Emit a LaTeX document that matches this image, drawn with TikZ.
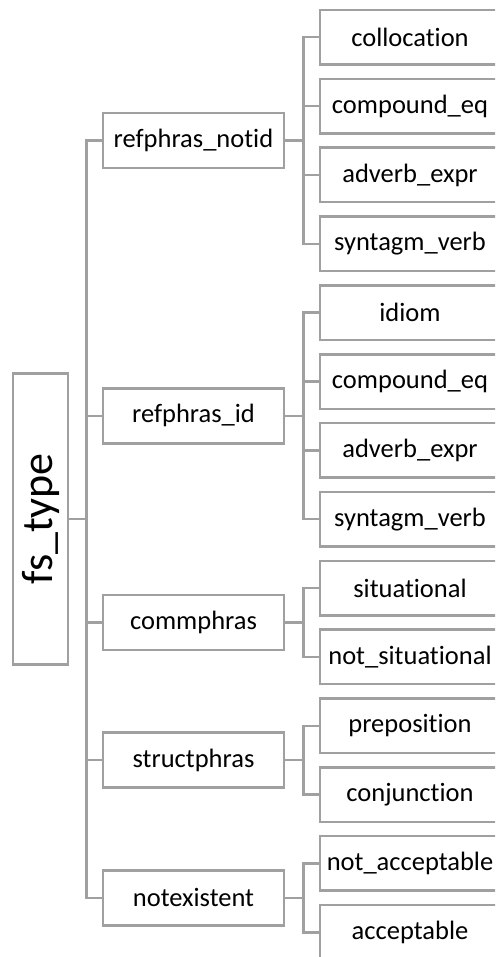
\documentclass[tikz,border=0pt]{standalone}
\usepackage{fontspec}
\setmainfont{Carlito}[Ligatures={NoCommon}]
\usetikzlibrary{calc}
\definecolor{linegray}{RGB}{160,160,160}
\begin{document}
\begin{tikzpicture}[x=1pt,y=-1pt,
  box/.style={draw=linegray, line width=2.5pt, fill=white, inner sep=0pt, text=black,
    font=\fontsize{26.5}{30}\selectfont},
  midbox/.style={box, minimum width=181pt, minimum height=55pt},
  leafbox/.style={box, minimum width=180pt, minimum height=54.5pt},
  rootbox/.style={box, minimum width=55pt, minimum height=291pt, font=\fontsize{44}{48}\selectfont},
  conn/.style={draw=linegray, line width=2.5pt}
]
\fill[white] (0,0) rectangle (495,957);
\useasboundingbox (0,0) rectangle (495,957);
\clip (0,0) rectangle (495,957);

% root
\node[rootbox] (root) at (40.5,519) {\rotatebox{90}{fs\_type}};

% mid level
\node[midbox] (m1) at (193.5,140.5) {refphras\_notid};
\node[midbox] (m2) at (193.5,415.9) {refphras\_id};
\node[midbox] (m3) at (193.5,622.5) {commphras};
\node[midbox] (m4) at (193.5,760.2) {structphras};
\node[midbox] (m5) at (193.5,897.9) {notexistent};

% leaves
\node[leafbox] (l1) at (410,37.25) {collocation};
\node[leafbox] (l2) at (410,106.1) {compound\_eq};
\node[leafbox] (l3) at (410,174.95) {adverb\_expr};
\node[leafbox] (l4) at (410,243.8) {syntagm\_verb};
\node[leafbox] (l5) at (410,312.65) {idiom};
\node[leafbox] (l6) at (410,381.5) {compound\_eq};
\node[leafbox] (l7) at (410,450.35) {adverb\_expr};
\node[leafbox] (l8) at (410,519.2) {syntagm\_verb};
\node[leafbox] (l9) at (410,588.05) {situational};
\node[leafbox] (l10) at (410,656.9) {not\_situational};
\node[leafbox] (l11) at (410,725.75) {preposition};
\node[leafbox] (l12) at (410,794.6) {conjunction};
\node[leafbox] (l13) at (410,863.45) {not\_acceptable};
\node[leafbox] (l14) at (410,932.3) {acceptable};

% bus coordinates
\coordinate (rb) at ($(root.east)+(17,0)$);
\coordinate (b1) at ($(m1.east)+(18,0)$);
\coordinate (b2) at ($(m2.east)+(18,0)$);
\coordinate (b3) at ($(m3.east)+(18,0)$);
\coordinate (b4) at ($(m4.east)+(18,0)$);
\coordinate (b5) at ($(m5.east)+(18,0)$);

% root connectors
\draw[conn] (root.east) -- (rb);
\draw[conn] (m1.west) -| (rb);
\draw[conn] (m5.west) -| (rb);
\draw[conn] (m2.west) -- (m2.west -| rb);
\draw[conn] (m3.west) -- (m3.west -| rb);
\draw[conn] (m4.west) -- (m4.west -| rb);

% group 1
\draw[conn] (m1.east) -- (b1);
\draw[conn] (l1.west) -| (b1);
\draw[conn] (l4.west) -| (b1);
\draw[conn] (l2.west) -- (l2.west -| b1);
\draw[conn] (l3.west) -- (l3.west -| b1);
% group 2
\draw[conn] (m2.east) -- (b2);
\draw[conn] (l5.west) -| (b2);
\draw[conn] (l8.west) -| (b2);
\draw[conn] (l6.west) -- (l6.west -| b2);
\draw[conn] (l7.west) -- (l7.west -| b2);
% group 3
\draw[conn] (m3.east) -- (b3);
\draw[conn] (l9.west) -| (b3);
\draw[conn] (l10.west) -| (b3);
% group 4
\draw[conn] (m4.east) -- (b4);
\draw[conn] (l11.west) -| (b4);
\draw[conn] (l12.west) -| (b4);
% group 5
\draw[conn] (m5.east) -- (b5);
\draw[conn] (l13.west) -| (b5);
\draw[conn] (l14.west) -| (b5);
\end{tikzpicture}
\end{document}
